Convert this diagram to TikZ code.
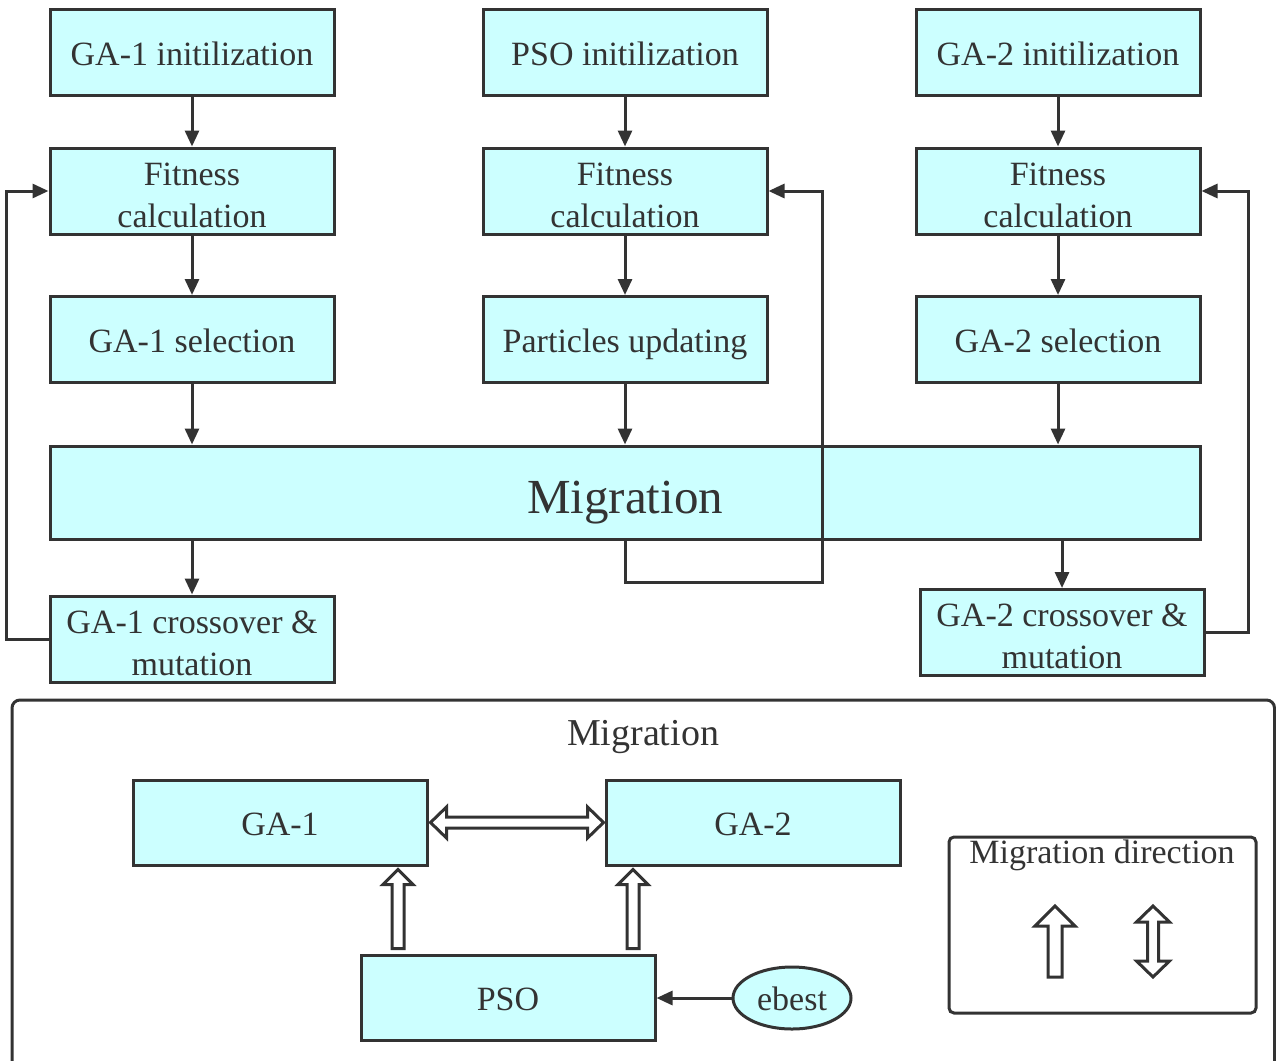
\documentclass[tikz,border=0pt]{standalone}
\usepackage{fontspec}
\setmainfont{LiberationSerif}[Extension=.ttf, UprightFont=*-Regular,
  BoldFont=*-Bold, ItalicFont=*-Italic, BoldItalicFont=*-BoldItalic]
\usetikzlibrary{arrows.meta,calc,shapes.geometric}

\definecolor{boxfill}{HTML}{CCFFFF}
\definecolor{ink}{HTML}{333333}

% hollow block arrow pointing up, from tail #1 to tip #2
\newcommand\blockup[5]{%
  \draw[hollow] let \p1=(#1), \p2=(#2) in
    (\x1-#3,\y1) -- (\x1-#3,\y2-#5) -- (\x1-#4,\y2-#5) -- (\x1,\y2)
    -- (\x1+#4,\y2-#5) -- (\x1+#3,\y2-#5) -- (\x1+#3,\y1) -- cycle;}
% hollow double-headed block arrow, horizontal, between #1 and #2
\newcommand\blockdh[5]{%
  \draw[hollow] let \p1=(#1), \p2=(#2) in
    (\x1,\y1) -- (\x1+#5,\y1+#4) -- (\x1+#5,\y1+#3) -- (\x2-#5,\y1+#3)
    -- (\x2-#5,\y1+#4) -- (\x2,\y1) -- (\x2-#5,\y1-#4) -- (\x2-#5,\y1-#3)
    -- (\x1+#5,\y1-#3) -- (\x1+#5,\y1-#4) -- cycle;}
% hollow double-headed block arrow, vertical, from bottom #1 to top #2
\newcommand\blockdv[5]{%
  \draw[hollow] let \p1=(#1), \p2=(#2) in
    (\x1,\y1) -- (\x1-#4,\y1+#5) -- (\x1-#3,\y1+#5) -- (\x1-#3,\y2-#5)
    -- (\x1-#4,\y2-#5) -- (\x1,\y2) -- (\x1+#4,\y2-#5) -- (\x1+#3,\y2-#5)
    -- (\x1+#3,\y1+#5) -- (\x1+#4,\y1+#5) -- cycle;}

\tikzset{
  box/.style={draw=ink, line width=3pt, fill=boxfill, text=ink,
    minimum width=284pt, minimum height=86pt, inner sep=0pt,
    align=center, font=\fontsize{34}{42}\selectfont,
    text height=25pt, text depth=0pt},
  twoline/.style={text height=72pt},
  arr/.style={draw=ink, line width=3pt, -{Triangle[length=16pt,width=14pt]}},
  line/.style={draw=ink, line width=3pt},
  hollow/.style={draw=ink, line width=3pt, fill=white, line join=miter},
  lbl/.style={text=ink, inner sep=0pt, anchor=base}
}

\begin{document}
\begin{tikzpicture}[x=1pt,y=-1pt]
\useasboundingbox (0,0) rectangle (1276,1060);

% ---- upper flowchart ----
\node[box] (ga1init) at (192,52.5)  {GA-1 initilization};
\node[box] (psoinit) at (625,52.5)  {PSO initilization};
\node[box] (ga2init) at (1058,52.5) {GA-2 initilization};

\node[box, twoline] (ga1fit) at (192,191)  {Fitness\\calculation};
\node[box, twoline] (psofit) at (625,191)  {Fitness\\calculation};
\node[box, twoline] (ga2fit) at (1058,191) {Fitness\\calculation};

\node[box] (ga1sel) at (192,339.5)  {GA-1 selection};
\node[box] (psoupd) at (625,339.5)  {Particles updating};
\node[box] (ga2sel) at (1058,339.5) {GA-2 selection};

\node[box, minimum width=1150pt, minimum height=93pt, text height=41pt,
      font=\fontsize{49}{58}\selectfont] (mig) at (625,492.5) {Migration};

\node[box, twoline] (ga1co) at (192,639)  {GA-1 crossover \&\\mutation};
\node[box, twoline] (ga2co) at (1062,632.5) {GA-2 crossover \&\\mutation};

\draw[arr] (ga1init) -- (ga1fit);
\draw[arr] (psoinit) -- (psofit);
\draw[arr] (ga2init) -- (ga2fit);
\draw[arr] (ga1fit) -- (ga1sel);
\draw[arr] (psofit) -- (psoupd);
\draw[arr] (ga2fit) -- (ga2sel);
\draw[arr] (ga1sel.south) -- (ga1sel.south |- mig.north);
\draw[arr] (psoupd.south) -- (psoupd.south |- mig.north);
\draw[arr] (ga2sel.south) -- (ga2sel.south |- mig.north);
\draw[arr] (ga1co.north |- mig.south) -- (ga1co.north);
\draw[arr] (ga2co.north |- mig.south) -- (ga2co.north);

% feedback loops
\draw[arr] (ga1co.west) -- ++(-42,0) |- (ga1fit.west);
\draw[arr] (mig.south) -- ++(0,42) -- ++(197,0) |- (psofit.east);
\draw[arr] (ga2co.east) -- ++(43,0) |- (ga2fit.east);

% ---- migration detail panel ----
\begin{scope}
  \clip (0,0) rectangle (1276,1060);
  \draw[line, rounded corners=8pt] (12,700) rectangle (1274.5,1080);
\end{scope}
\node[lbl, font=\fontsize{38}{44}\selectfont] (mtitle) at (643,745) {Migration};

\node[box, minimum width=294pt, minimum height=85pt] (ga1b) at (280,822.5) {GA-1};
\node[box, minimum width=294pt, minimum height=85pt] (ga2b) at (753,822.5) {GA-2};
\node[box, minimum width=294pt, minimum height=85pt] (psob) at (508,997.5) {PSO};
\node[box, ellipse, minimum width=118pt, minimum height=62pt] (ebest) at (792,998) {ebest};

\draw[arr] (ebest.west) -- (ebest.west -| psob.east);

\coordinate (xa) at (398,0);
\coordinate (xb) at (633,0);
\blockup{$(xa |- psob.north)+(0,-5)$}{$(xa |- ga1b.south)+(0,3)$}{6pt}{15pt}{15pt}
\blockup{$(xb |- psob.north)+(0,-5)$}{$(xb |- ga2b.south)+(0,3)$}{6pt}{15pt}{15pt}
\blockdh{$(ga1b.east)+(2,0)$}{$(ga2b.west)+(-1,0)$}{5.5pt}{15.5pt}{16pt}

% legend
\draw[line, rounded corners=5pt] (949,837) rectangle (1256,1013);
\node[lbl, font=\fontsize{34}{40}\selectfont] (ltitle) at (1102,863) {Migration direction};
\coordinate (lu0) at (1055,977);
\coordinate (lu1) at (1055,906);
\coordinate (ld0) at (1153,977);
\coordinate (ld1) at (1153,906);
\blockup{lu0}{lu1}{7pt}{20pt}{20pt}
\blockdv{ld0}{ld1}{5.5pt}{16.5pt}{16pt}
\end{tikzpicture}
\end{document}
